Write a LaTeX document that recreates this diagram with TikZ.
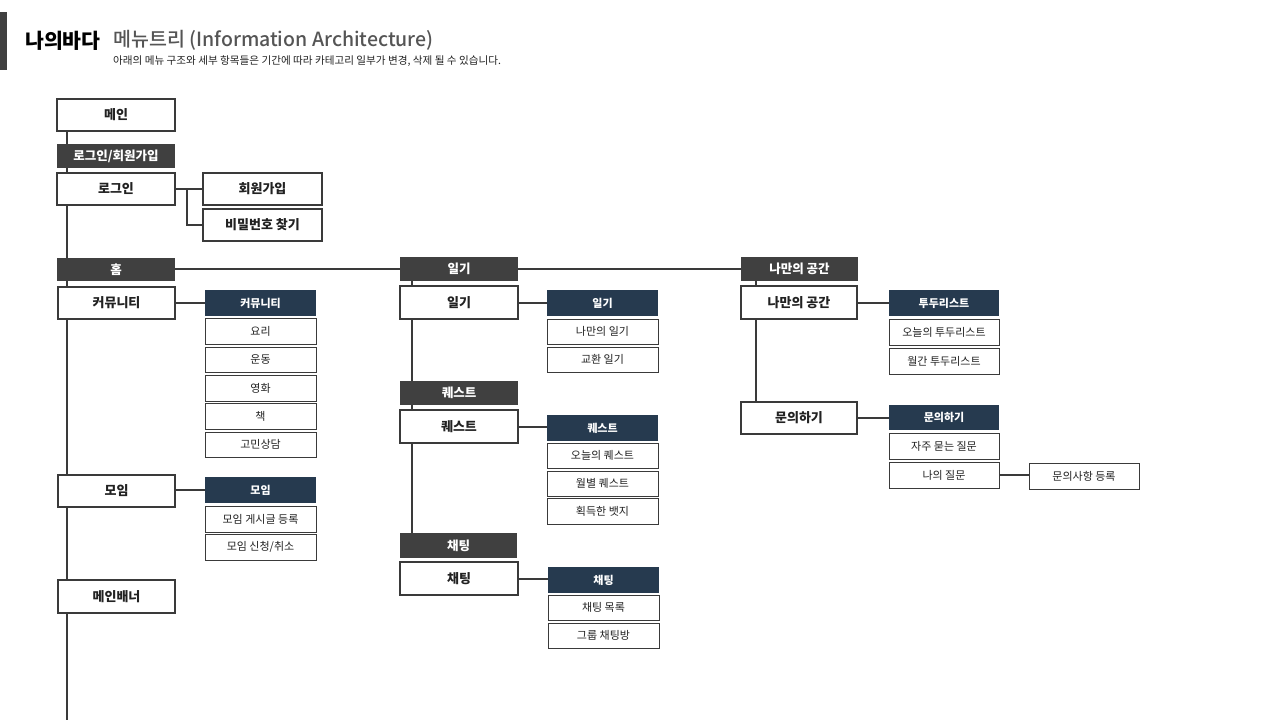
\documentclass[tikz,border=0pt]{standalone}
\usepackage{fontspec}
\setmainfont{Noto Sans CJK KR}
\newfontfamily\medfont{Noto Sans CJK KR Medium}
\usetikzlibrary{backgrounds,calc}
\definecolor{lc}{HTML}{3A3A3A}
\definecolor{hdr}{HTML}{404040}
\definecolor{navy}{HTML}{263A4F}
\definecolor{txt}{HTML}{222222}
\definecolor{sub}{HTML}{555555}
\tikzset{
  mainbox/.style={draw=lc, line width=2, fill=white, text=txt, inner sep=0, outer sep=0,
    font=\bfseries\fontsize{13}{15}\selectfont, minimum width=118, minimum height=32},
  hdrbox/.style={fill=hdr, text=white, inner sep=0, outer sep=0,
    font=\bfseries\fontsize{12.5}{14}\selectfont, minimum width=118, minimum height=24},
  navybox/.style={fill=navy, text=white, inner sep=0, outer sep=0,
    font=\bfseries\fontsize{11}{12}\selectfont, minimum width=111, minimum height=26},
  itembox/.style={draw=lc, line width=1, fill=white, text=txt, inner sep=0, outer sep=0,
    font=\fontsize{11}{12}\selectfont, minimum width=111, minimum height=26},
  conn/.style={draw=lc, line width=2}
}
\begin{document}
\begin{tikzpicture}[x=1pt,y=-1pt]
\useasboundingbox (0,0) rectangle (1280,720);
% title block
\fill[hdr] (0,12) rectangle (7,70);
\node[anchor=west, inner sep=0, font=\bfseries\fontsize{20.5}{22}\selectfont, text=black] (ttl) at (25,41) {나의바다};
\node[anchor=west, inner sep=0, font=\medfont\fontsize{19.5}{22}\selectfont, text=sub] (ttl2) at (113,40) {메뉴트리 (Information Architecture)};
\node[anchor=west, inner sep=0, font=\fontsize{10.6}{12}\selectfont, text=txt] (ttl3) at (113,61) {아래의 메뉴 구조와 세부 항목들은 기간에 따라 카테고리 일부가 변경, 삭제 될 수 있습니다.};

% left column
\node[mainbox] (main) at (116,115) {메인};
\node[hdrbox] (loginhdr) at (116,156) {로그인/회원가입};
\node[mainbox] (login) at (116,189) {로그인};
\node[mainbox, minimum width=119] (join) at (262.5,189) {회원가입};
\node[mainbox, minimum width=119] (findpw) at (262.5,225) {비밀번호 찾기};
\node[hdrbox, minimum height=23] (homehdr) at (116,269.5) {홈};
\node[mainbox, minimum width=117] (comm) at (116.5,303) {커뮤니티};
\node[navybox] (ncomm) at (260.5,303) {커뮤니티};
\node[itembox] (c1) at (260.5,331) {요리};
\node[itembox, minimum height=25] (c2) at (260.5,359.5) {운동};
\node[itembox] (c3) at (260.5,388) {영화};
\node[itembox] (c4) at (260.5,416) {책};
\node[itembox, minimum height=25] (c5) at (260.5,444.5) {고민상담};
\node[mainbox, minimum width=117] (moim) at (116.5,491) {모임};
\node[navybox] (nmoim) at (260.5,490) {모임};
\node[itembox] (m1) at (260.5,519) {모임 게시글 등록};
\node[itembox] (m2) at (260.5,547) {모임 신청/취소};
\node[mainbox, minimum width=117, minimum height=33] (banner) at (116.5,596.5) {메인배너};
\coordinate (trunkbot) at (67,720);

% middle column
\node[hdrbox] (diaryhdr) at (459,269) {일기};
\node[mainbox, minimum height=33] (diary) at (459,302.5) {일기};
\node[navybox] (ndiary) at (602.5,303) {일기};
\node[itembox, minimum height=25] (d1) at (602.5,331.5) {나만의 일기};
\node[itembox, minimum height=25] (d2) at (602.5,359.5) {교환 일기};
\node[hdrbox] (questhdr) at (459,393) {퀘스트};
\node[mainbox, minimum height=33] (quest) at (459,426.5) {퀘스트};
\node[navybox] (nquest) at (602.5,428) {퀘스트};
\node[itembox, minimum height=25] (q1) at (602.5,455.5) {오늘의 퀘스트};
\node[itembox, minimum height=25] (q2) at (602.5,483.5) {월별 퀘스트};
\node[itembox] (q3) at (602.5,511) {획득한 뱃지};
\node[hdrbox, minimum height=25, minimum width=117] (chathdr) at (458.5,545.5) {채팅};
\node[mainbox, minimum height=33] (chat) at (459,578.5) {채팅};
\node[navybox] (nchat) at (603.5,580) {채팅};
\node[itembox, minimum height=25] (h1) at (603.5,607.5) {채팅 목록};
\node[itembox, minimum height=25] (h2) at (603.5,635.5) {그룹 채팅방};

% right column
\node[hdrbox, minimum width=117] (spacehdr) at (799.5,269) {나만의 공간};
\node[mainbox, minimum width=116, minimum height=33] (space) at (799,302.5) {나만의 공간};
\node[navybox, minimum width=110] (ntodo) at (944,303) {투두리스트};
\node[itembox, minimum width=110] (t1) at (944,332) {오늘의 투두리스트};
\node[itembox, minimum width=110] (t2) at (944,361) {월간 투두리스트};
\node[mainbox, minimum width=116] (inq) at (799,418) {문의하기};
\node[navybox, minimum width=110, minimum height=25] (ninq) at (944,417.5) {문의하기};
\node[itembox, minimum width=110] (i1) at (944,446) {자주 묻는 질문};
\node[itembox, minimum width=110] (i2) at (944,475) {나의 질문};
\node[itembox, minimum width=110] (reg) at (1084,476) {문의사항 등록};

\begin{scope}[on background layer]
  \fill[white] (0,0) rectangle (1280,720);
  \draw[conn] (trunkbot |- main.south) -- (trunkbot);
  \draw[conn] (login.east) -- (join.west);
  \draw[conn] (login.east) -- ++(12,0) |- (findpw.west);
  \draw[conn] (diaryhdr.west -| homehdr.east) -- (diaryhdr.west);
  \draw[conn] (diaryhdr.east) -- (spacehdr.west);
  \draw[conn] (comm.east) -- (ncomm.west);
  \draw[conn] (moim.east |- nmoim.west) -- (nmoim.west);
  \draw[conn] ([xshift=12]diaryhdr.south west) -- ([xshift=12]chathdr.north west);
  \draw[conn] (diary.east) -- (diary.east -| ndiary.west);
  \draw[conn] (quest.east) -- (quest.east -| nquest.west);
  \draw[conn] (chat.east) -- (chat.east -| nchat.west);
  \draw[conn] ([xshift=15]spacehdr.south west) -- ([xshift=15]inq.north west);
  \draw[conn] (space.east) -- (space.east -| ntodo.west);
  \draw[conn] (inq.east) -- (inq.east -| ninq.west);
  \draw[conn] (i2.east) -- (i2.east -| reg.west);
\end{scope}
\end{tikzpicture}
\end{document}
